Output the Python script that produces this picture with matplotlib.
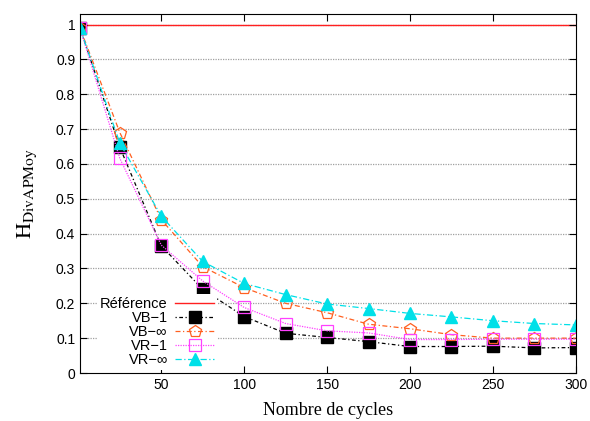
import matplotlib.pyplot as plt
from matplotlib.ticker import FuncFormatter

cycles = [1, 25, 50, 75, 100, 125, 150, 175, 200, 225, 250, 275, 300]

vb_1 = [0.99, 0.648, 0.365, 0.24, 0.162, 0.114, 0.102, 0.09, 0.076, 0.076, 0.077, 0.072, 0.073]
vb_inf = [0.99, 0.69, 0.44, 0.305, 0.245, 0.2, 0.173, 0.14, 0.127, 0.11, 0.1, 0.1, 0.1]
vr_1 = [0.99, 0.616, 0.367, 0.264, 0.188, 0.142, 0.121, 0.115, 0.096, 0.096, 0.097, 0.097, 0.097]
vr_inf = [0.99, 0.66, 0.45, 0.32, 0.257, 0.225, 0.198, 0.185, 0.171, 0.161, 0.15, 0.142, 0.138]

reference = 1.0


def main() -> None:
    plt.rcParams["font.family"] = ["Liberation Sans", "DejaVu Sans"]
    plt.rcParams["mathtext.fontset"] = "stix"

    fig = plt.figure(figsize=(5.9, 4.21), dpi=100)
    ax = fig.add_axes([0.1356, 0.114, 0.8404, 0.8526])

    for y in [i / 10 for i in range(1, 11)]:
        ax.axhline(y, color="#a0a0a0", linestyle=(0, (1, 1)), linewidth=0.9, zorder=0)

    ax.axhline(reference, color="#ff2020", linewidth=1.0, label="Référence", zorder=1)
    ax.plot(cycles, vb_1, color="black", linestyle=(0, (1, 2, 3, 2)), linewidth=0.9,
            marker="s", markersize=8, markerfacecolor="black", label="VB\u22121")
    ax.plot(cycles, vb_inf, color="#ff6020", linestyle=(0, (4, 2, 1, 2)), linewidth=0.9,
            marker="p", markersize=9, markerfacecolor="none", markeredgewidth=0.9,
            label="VB\u2212\u221e")
    ax.plot(cycles, vr_1, color="#ff40ff", linestyle=(0, (1, 1)), linewidth=0.9,
            marker="s", markersize=9, markerfacecolor="none", markeredgewidth=0.9,
            label="VR\u22121")
    ax.plot(cycles, vr_inf, color="#00e0e8", linestyle=(0, (5, 2, 1, 2)), linewidth=0.9,
            marker="^", markersize=8, markerfacecolor="#00e0e8", label="VR\u2212\u221e")

    ax.set_xlim(1, 300)
    ax.set_ylim(0, 1.03)
    ax.set_xticks([50, 100, 150, 200, 250, 300])
    ax.set_yticks([i / 10 for i in range(0, 11)])
    ax.yaxis.set_major_formatter(FuncFormatter(lambda v, _: f"{v:g}"))
    ax.tick_params(direction="in", top=True, right=True, length=5, labelsize=10)

    ax.set_xlabel("Nombre de cycles", family="Liberation Serif", fontsize=13, labelpad=7)
    ax.set_ylabel(r"$\mathrm{H}_{\mathrm{DivAPMoy}}$", fontsize=16, labelpad=12)

    leg = ax.legend(loc="lower left", bbox_to_anchor=(0.02, -0.012), frameon=True,
                    markerfirst=False, fontsize=10.5, handlelength=2.7, labelspacing=0.0,
                    handletextpad=0.5, borderpad=0.2, fancybox=False)
    leg.get_frame().set_facecolor("white")
    leg.get_frame().set_edgecolor("none")
    leg.get_frame().set_alpha(1.0)

    fig.savefig("out.png")


if __name__ == "__main__":
    main()
